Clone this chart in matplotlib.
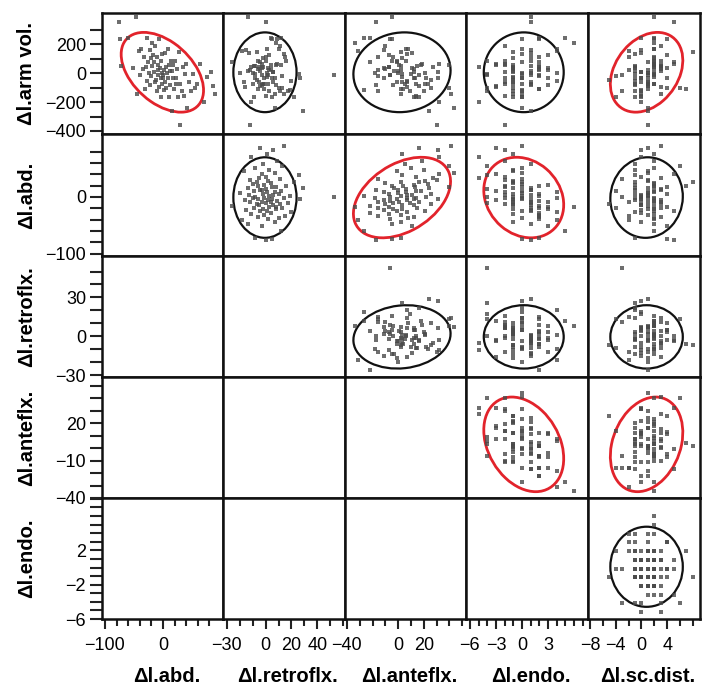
import matplotlib
matplotlib.use("Agg")
import matplotlib.pyplot as plt
import numpy as np
from matplotlib.patches import Ellipse

plt.rcParams['font.family'] = ['Liberation Sans', 'DejaVu Sans']

# ---------------- data (one value per subject) ----------------
arm_vol = [359, 241, 48, 247, 36, 393, -144, 156, -15, 170,
           31, 113, -111, 45, 242, -54, 79, 5, 160, -82,
           104, -22, 49, 207, 130, 76, 12, -63, 187, -45,
           110, -121, 23, 54, -9, 241, -96, 38, -36, 88,
           -164, 3, 137, -72, -10, -31, 20, -118, 143, -58,
           45, -103, 0, 166, -34, -162, 57, 13, -82, 84,
           -263, 18, -35, 57, -112, 85, -33, -76, 27, -165,
           149, -74, -360, -121, 43, -159, -5, 66, -241, -57,
           -124, -3, -103, -76, 61, -199, -28, 7, -87, -145]
abd = [-76, -74, -73, -60, -52, -47, -44, -41, -39, -37,
       -35, -33, -31, -30, -28, -27, -25, -24, -23, -22,
       -21, -20, -19, -18, -17, -16, -15, -14, -13, -12,
       -11, -10, -9, -8, -8, -7, -6, -5, -4, -3,
       -3, -2, -1, -1, 0, 0, 1, 2, 3, 4,
       5, 6, 7, 8, 9, 10, 11, 12, 13, 14,
       15, 16, 17, 18, 19, 20, 22, 23, 24, 26,
       27, 29, 30, 32, 34, 36, 38, 40, 42, 45,
       48, 51, 55, 59, 64, 70, 76, 82, 86, 90]
retroflx = [0, 5, -8, 12, -3, -14, 7, -18, 2, 10,
            -6, 15, -1, -11, 4, 20, -4, 1, -15, 8,
            -2, 13, -9, 8, 3, -26, 6, -5, 11, -7,
            0, 17, -12, 4, -3, 9, -16, 2, 27, -6,
            5, -10, 14, -1, 53, -8, 3, 19, -13, 6,
            -2, 10, -20, 1, 7, -9, 12, -4, -3, 0,
            29, -14, 5, 8, -6, 16, -1, -10, 4, 22,
            -7, 2, -12, 11, -5, 0, 26, -3, 7, -17,
            3, -8, 13, -2, 9, -11, 1, 6, -4, 14]
anteflx = [-17, -5, 2, -27, 11, -5, 2, -31, -6, 8,
           12, -16, 2, -7, -22, 7, -1, 21, -11, -4,
           3, -16, 15, -34, -7, -22, 12, 3, -10, 26,
           -4, 9, -16, 1, 16, -6, 7, -11, 31, -1,
           12, -18, 7, 14, -6, 22, 2, -27, 11, 7,
           -7, 26, 0, 6, -11, 14, 18, 0, -17, 6,
           24, -3, 13, 40, 4, -5, 12, 23, -10, 16,
           2, 21, 30, -16, 27, 14, 3, 32, 44, -1,
           20, 10, 40, 5, 19, 32, 3, 31, 16, 41]
endo = [1, 0, 2, 5, 3, 1, -1, 4, 2, 0,
        2, 2, 2, -1, 2, 4, 0, 1, 1, 3,
        -1, 2, 1, 6, 3, 2, -1, 1, -2, -1,
        1, -4, 3, -1, 1, 2, -3, -1, 0, 1,
        -1, 4, 0, -2, -4, -1, 2, 0, 1, -2,
        2, -1, 0, 4, -2, 0, -3, 1, 1, -4,
        1, -1, 0, -2, 2, -2, 3, 0, -1, 0,
        -1, -1, -2, 0, -5, -2, -4, -3, 0, -1,
        -1, 0, -4, 1, -2, -5, -1, -2, -3, 0]
sc_dist = [5, 4, -1, 2, 4, 2, 0, -2, 2, 2,
           3, -2, 1, 2, 0, -1, 5, 2, 0, 1,
           2, -4, 3, 2, 4, 1, 0, 0, 3, -5,
           2, 0, -2, 3, 1, 2, 3, -1, 0, 2,
           0, 1, -1, 2, -3, 0, 1, 0, 0, 1,
           -1, 4, 1, 2, 1, -4, 2, 3, -1, 3,
           1, -1, 4, 2, 7, 2, -1, 2, 2, -1,
           8, 1, 1, -3, 3, 0, -1, 5, 1, 1,
           -1, 2, 6, -1, 2, 0, 2, 0, 1, 3]

var_labels = ["Δl.arm vol.", "Δl.abd.", "Δl.retroflx.", "Δl.anteflx.",
              "Δl.endo.", "Δl.sc.dist."]
variables = [arm_vol, abd, retroflx, anteflx, endo, sc_dist]

# density-ellipse parameters
ell_mean = [7, -1, -0.5, 3, 0.2, 0.8]
ell_sd = [113, 29, 10, 15.5, 1.88, 2.3]
ell_r = [
    [1, -0.45, 0.0, 0.05, 0.0, 0.30],
    [-0.45, 1, 0.0, 0.40, -0.18, 0.03],
    [0.0, 0.0, 1, 0.10, 0.0, 0.0],
    [0.05, 0.40, 0.10, 1, -0.30, 0.25],
    [0.0, -0.18, 0.0, -0.30, 1, 0.0],
    [0.30, 0.03, 0.0, 0.25, 0.0, 1],
]
significant = [(0, 1), (0, 5), (1, 3), (1, 4), (3, 4), (3, 5)]

# axis ranges / tick labels per variable
xlims = [None, (-105, 103.5), (-33, 61.5), (-41.5, 53), (-6.45, 7.6), (-8.3, 9.1)]
ylims = [(-421, 418), (-104, 111), (-31.5, 62), (-40, 57), (-5.8, 8.1), None]
x_major = [None, [-100, 0], [-30, 0, 20, 40], [-40, 0, 20], [-6, -3, 0, 3], [-8, -4, 0, 4]]
x_minor = [None, [-80, -60, -40, -20, 20, 40, 60, 80], [-20, -10, 10, 30, 50, 60],
           [-30, -20, -10, 10, 30, 40, 50], [-5, -4, -2, -1, 1, 2, 4, 5, 6, 7],
           [-6, -2, 2, 6, 8]]
y_major = [[-400, -200, 0, 200], [-100, 0], [-30, 0, 30], [-40, -10, 20], [-6, -2, 2], None]
y_minor = [[-300, -100, 100, 300], [-80, -60, -40, -20, 20, 40, 60, 80],
           [-20, -10, 10, 20, 40, 50], [-30, -20, 0, 10, 30, 40, 50],
           [-5, -4, -3, -1, 0, 1, 3, 4, 5, 6, 7, 8], None]

# ---------------- layout ----------------
W, H = 702, 686
fig = plt.figure(figsize=(W / 100, H / 100), dpi=100)
col_edges = [102, 223, 345, 466, 588, 700]
row_edges = [13, 134, 256, 377, 498, 619]

CHI2_95 = 5.991
RED = '#e2232b'

for r in range(5):
    for c in range(5):
        x0, x1 = col_edges[c], col_edges[c + 1]
        y0, y1 = row_edges[r], row_edges[r + 1]
        ax = fig.add_axes([x0 / W, 1 - y1 / H, (x1 - x0) / W, (y1 - y0) / H])
        vx, vy = c + 1, r
        ax.set_xlim(*xlims[vx])
        ax.set_ylim(*ylims[vy])
        for s in ax.spines.values():
            s.set_linewidth(1.8)
            s.set_color('#111111')
        ax.set_xticks([])
        ax.set_yticks([])
        if c == 0:
            ax.set_yticks(y_major[vy])
            ax.set_yticks(y_minor[vy], minor=True)
            ax.tick_params(axis='y', which='both', direction='out', length=8.5,
                           width=1.5, color='#222222', labelsize=13, pad=3)
            ax.set_yticklabels([str(v).replace('-', '−') for v in y_major[vy]])
        if r == 4:
            ax.set_xticks(x_major[vx])
            ax.set_xticks(x_minor[vx], minor=True)
            ax.tick_params(axis='x', which='major', direction='out', length=7,
                           width=1.5, color='#222222', labelsize=13, pad=6)
            ax.tick_params(axis='x', which='minor', direction='out', length=5,
                           width=1.5, color='#222222')
            ax.set_xticklabels([str(v).replace('-', '−') for v in x_major[vx]])
        if vx > vy:
            ax.plot(variables[vx], variables[vy], linestyle='none', marker='s',
                    markersize=2.8, markeredgewidth=0, color='#4a4a4a', alpha=0.8)
            sx, sy = ell_sd[vx], ell_sd[vy]
            rr = ell_r[vx][vy]
            cov = np.array([[sx * sx, rr * sx * sy], [rr * sx * sy, sy * sy]])
            vals, vecs = np.linalg.eigh(cov)
            order = vals.argsort()[::-1]
            vals, vecs = vals[order], vecs[:, order]
            angle = np.degrees(np.arctan2(vecs[1, 0], vecs[0, 0]))
            col = RED if (vy, vx) in significant else '#111111'
            lw = 2.0 if col == RED else 1.6
            e = Ellipse((ell_mean[vx], ell_mean[vy]),
                        2 * np.sqrt(CHI2_95 * vals[0]), 2 * np.sqrt(CHI2_95 * vals[1]),
                        angle=angle, fill=False, edgecolor=col, linewidth=lw)
            ax.add_patch(e)

# row labels
for r in range(5):
    yc = (row_edges[r] + row_edges[r + 1]) / 2
    fig.text(27 / W, 1 - yc / H, var_labels[r], rotation=90, ha='center', va='center',
             fontsize=14.5, fontweight='bold')
# column labels
for c in range(5):
    xc = (col_edges[c] + col_edges[c + 1]) / 2 + 4
    fig.text(xc / W, 1 - 677 / H, var_labels[c + 1], ha='center', va='center',
             fontsize=14.5, fontweight='bold')

fig.savefig('out.png', dpi=100)
